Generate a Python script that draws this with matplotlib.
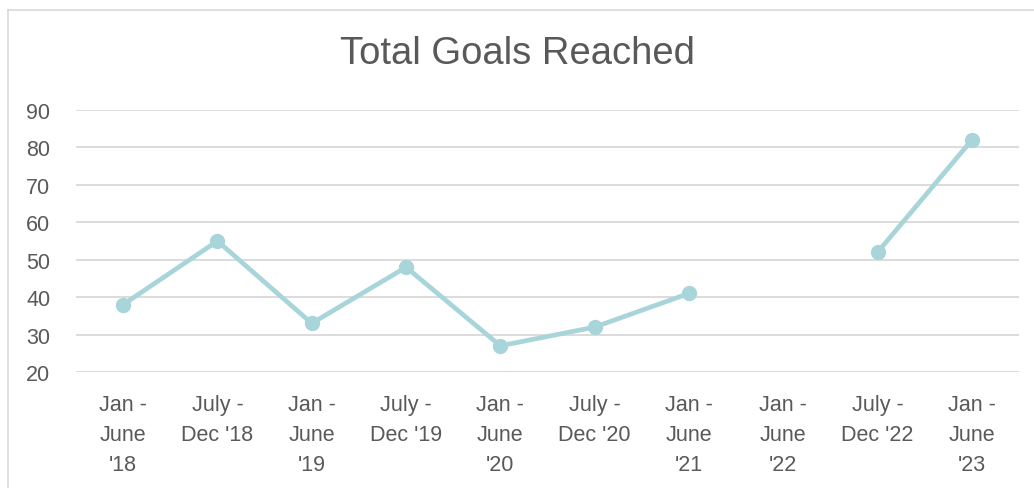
import matplotlib
matplotlib.use("Agg")
import matplotlib.pyplot as plt
import numpy as np
from matplotlib.lines import Line2D

categories = ["Jan -\nJune\n'18", "July -\nDec '18", "Jan -\nJune\n'19", "July -\nDec '19",
              "Jan -\nJune\n'20", "July -\nDec '20", "Jan -\nJune\n'21", "Jan -\nJune\n'22",
              "July -\nDec '22", "Jan -\nJune\n'23"]
values = [38, 55, 33, 48, 27, 32, 41, np.nan, 52, 82]
yticks = [20, 30, 40, 50, 60, 70, 80, 90]

plt.rcParams['font.family'] = ['Liberation Sans', 'DejaVu Sans']
text_color = '#595959'
line_color = '#a8d5da'
grid_color = '#d9d9d9'

fig = plt.figure(figsize=(10.34, 4.89), dpi=100)
ax = fig.add_axes([0.0735, 0.2372, 0.912, 0.5358])
x = np.arange(len(categories))
ax.plot(x, values, color=line_color, lw=3.4, marker='o', markersize=10,
        solid_capstyle='round', zorder=3)
ax.set_xlim(-0.5, len(categories) - 0.5)
ax.set_ylim(20, 90)
ax.set_yticks(yticks)
ax.set_xticks(x)
ax.set_xticklabels(categories, fontsize=15.5, color=text_color, linespacing=1.55)
ax.tick_params(axis='y', labelsize=15.5, labelcolor=text_color, length=0, pad=18.5)
ax.tick_params(axis='x', length=0, pad=16)
for lab in ax.get_yticklabels():
    lab.set_horizontalalignment('right')
ax.grid(axis='y', color=grid_color, lw=1.3)
ax.set_axisbelow(True)
for s in ax.spines.values():
    s.set_visible(False)

fig.text(0.5, 1 - 54 / 489, "Total Goals Reached", ha='center', va='center',
         fontsize=27.5, color=text_color)

# chart border (left and top visible)
fig.add_artist(Line2D([8 / 1034, 8 / 1034], [0, 1 - 11 / 489], color=grid_color, lw=1.2))
fig.add_artist(Line2D([8 / 1034, 1], [1 - 11 / 489, 1 - 11 / 489], color=grid_color, lw=1.2))

fig.savefig("out.png", dpi=100)
